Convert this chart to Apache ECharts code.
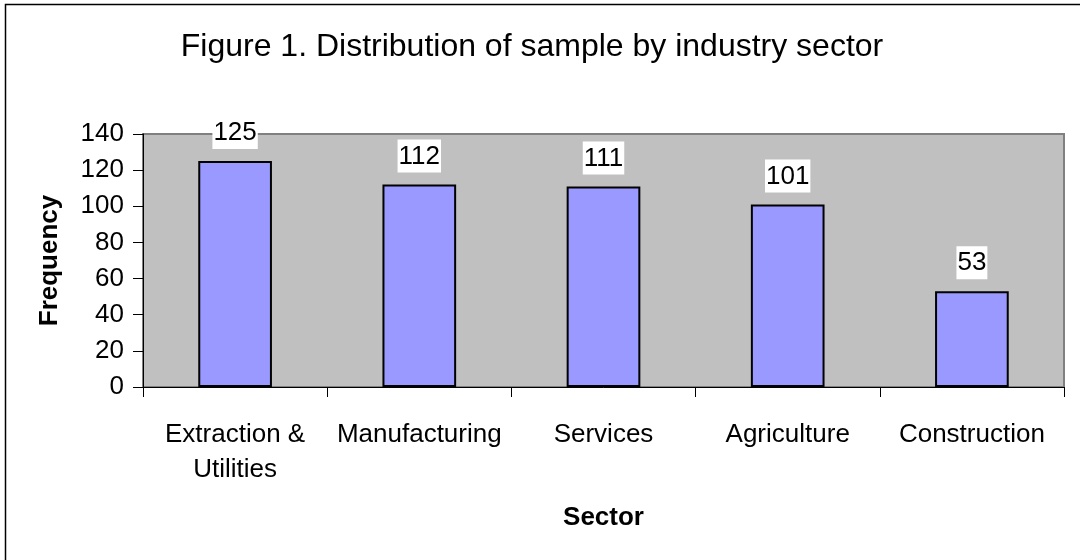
<!DOCTYPE html>
<html>
<head>
<meta charset="utf-8">
<script src="https://cdn.jsdelivr.net/npm/echarts@6/dist/echarts.min.js"></script>
<style>
  html, body { margin: 0; padding: 0; background: #fff; }
  #chart { width: 1080px; height: 560px; }
</style>
</head>
<body>
<div id="chart"></div>
<script>
var sectors = ['Extraction &\nUtilities', 'Manufacturing', 'Services', 'Agriculture', 'Construction'];
var frequency = [125, 112, 111, 101, 53];
var yTicks = { min: 0, max: 140, interval: 20 };

var fontFam = "'Liberation Sans', Arial, sans-serif";

var myChart = echarts.init(document.getElementById('chart'));
var option = {
  animation: false,
  backgroundColor: '#fff',
  title: {
    text: 'Figure 1. Distribution of sample by industry sector',
    left: 527,
    textAlign: 'center',
    top: 26,
    textStyle: { fontFamily: fontFam, fontSize: 32, fontWeight: 'normal', color: '#000' }
  },
  graphic: [{
    // outer frame, only top and left edges fall inside the picture
    type: 'rect',
    shape: { x: 5.5, y: 4.5, width: 1200, height: 700 },
    style: { fill: 'none', stroke: '#000', lineWidth: 1.5 },
    silent: true
  }],
  grid: {
    left: 143, right: 16, top: 134, bottom: 173,
    show: true,
    backgroundColor: '#C0C0C0',
    borderColor: '#808080',
    borderWidth: 2
  },
  xAxis: {
    type: 'category',
    data: sectors,
    name: 'Sector',
    nameLocation: 'middle',
    nameGap: 118,
    nameTextStyle: { fontFamily: fontFam, fontSize: 26, fontWeight: 'bold', color: '#000' },
    axisLine: { lineStyle: { color: '#000', width: 1 } },
    axisTick: { show: true, length: 10, lineStyle: { color: '#000' } },
    axisLabel: {
      margin: 30,
      fontFamily: fontFam, fontSize: 26, color: '#000', lineHeight: 35,
      interval: 0
    }
  },
  yAxis: {
    type: 'value',
    min: yTicks.min, max: yTicks.max, interval: yTicks.interval,
    name: 'Frequency',
    nameLocation: 'middle',
    nameGap: 80,
    nameRotate: 90,
    nameTextStyle: { fontFamily: fontFam, fontSize: 26, fontWeight: 'bold', color: '#000' },
    axisLine: { show: true, lineStyle: { color: '#000', width: 1 } },
    axisTick: { show: true, inside: false, length: 10, lineStyle: { color: '#000' } },
    axisLabel: { margin: 19, fontFamily: fontFam, fontSize: 26, color: '#000' },
    splitLine: { show: false }
  },
  series: [{
    type: 'bar',
    data: frequency,
    barWidth: '40%',
    itemStyle: { color: '#9999FF', borderColor: '#000', borderWidth: 2 },
    label: {
      show: true,
      position: 'top',
      distance: 12,
      fontFamily: fontFam, fontSize: 26, color: '#000',
      backgroundColor: '#fff',
      padding: [4, 1, 3, 1]
    }
  }]
};
myChart.setOption(option);
</script>
</body>
</html>
